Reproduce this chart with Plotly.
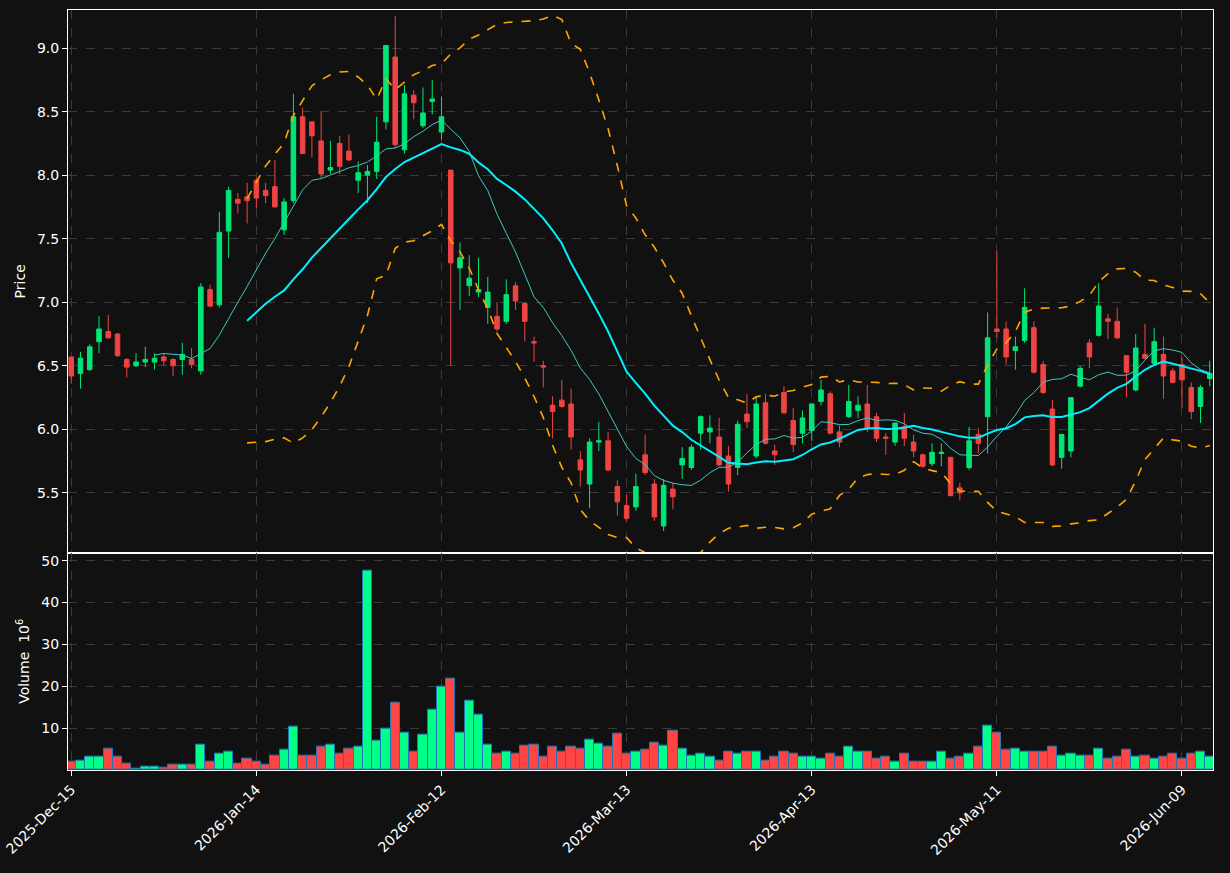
import pandas as pd
import numpy as np
import plotly.graph_objects as go
from plotly.subplots import make_subplots

# trading days (US exchange holidays removed)
holidays = ['2025-12-25', '2026-01-01', '2026-01-19', '2026-02-16', '2026-04-03', '2026-05-25']
dates = [d for d in pd.bdate_range('2025-12-15', '2026-06-12') if d.strftime('%Y-%m-%d') not in holidays]

opens = [6.57, 6.44, 6.47, 6.69, 6.77, 6.75, 6.55, 6.50, 6.53, 6.53, 6.57, 6.55, 6.55, 6.55, 6.46, 7.10, 6.98, 7.56, 7.81, 7.83,
         7.96, 7.88, 7.91, 7.57, 7.80, 8.46, 8.42, 8.27, 8.04, 8.25, 8.19, 7.96, 8.00, 8.03, 8.42, 8.93, 8.20, 8.63, 8.39, 8.58,
         8.34, 8.04, 7.27, 7.13, 7.08, 6.96, 6.89, 6.85, 7.13, 6.99, 6.69, 6.50, 6.19, 6.23, 6.20, 5.76, 5.57, 5.90, 5.91, 5.55,
         5.40, 5.39, 5.80, 5.57, 5.24, 5.53, 5.72, 5.70, 5.97, 5.98, 5.94, 5.79, 5.70, 6.12, 5.79, 6.21, 5.83, 6.29, 6.07, 5.97,
         5.99, 6.22, 6.28, 5.98, 6.10, 6.15, 6.20, 6.10, 5.94, 5.90, 6.02, 5.90, 5.80, 5.73, 5.81, 5.78, 5.54, 5.70, 5.96, 6.10,
         6.79, 6.79, 6.62, 6.70, 6.80, 6.51, 6.16, 5.78, 5.83, 6.34, 6.68, 6.74, 6.87, 6.85, 6.58, 6.31, 6.59, 6.52, 6.59, 6.46,
         6.51, 6.33, 6.18, 6.40]
highs = [6.57, 6.61, 6.67, 6.89, 6.90, 6.76, 6.56, 6.60, 6.65, 6.60, 6.60, 6.56, 6.68, 6.64, 7.15, 7.14, 7.71, 7.91, 7.86, 7.94,
         7.98, 7.94, 8.12, 7.82, 8.64, 8.53, 8.42, 8.50, 8.27, 8.31, 8.32, 8.11, 8.08, 8.46, 9.02, 9.25, 8.71, 8.67, 8.69, 8.75,
         8.62, 8.04, 7.47, 7.37, 7.35, 7.20, 7.00, 7.18, 7.16, 6.99, 6.73, 6.54, 6.26, 6.39, 6.32, 5.83, 5.93, 6.06, 5.98, 5.60,
         5.49, 5.65, 5.96, 5.61, 5.61, 5.58, 5.86, 5.88, 6.11, 6.11, 6.09, 5.87, 6.07, 6.28, 6.26, 6.28, 5.88, 6.34, 6.17, 6.15,
         6.20, 6.39, 6.30, 6.03, 6.35, 6.26, 6.35, 6.13, 5.97, 6.05, 6.13, 5.96, 5.81, 5.89, 5.89, 5.78, 5.58, 6.02, 6.01, 6.92,
         7.40, 6.85, 6.73, 7.11, 6.85, 6.54, 6.23, 5.96, 6.25, 6.50, 6.71, 7.15, 6.91, 6.96, 6.58, 6.75, 6.83, 6.80, 6.73, 6.48,
         6.57, 6.37, 6.35, 6.54]
lows = [6.36, 6.32, 6.46, 6.60, 6.72, 6.57, 6.41, 6.49, 6.49, 6.47, 6.50, 6.42, 6.43, 6.48, 6.43, 6.96, 6.96, 7.35, 7.70, 7.62,
        7.74, 7.78, 7.75, 7.53, 7.78, 8.17, 8.14, 7.98, 8.01, 8.01, 8.11, 7.86, 7.78, 7.97, 8.36, 8.21, 8.17, 8.44, 8.37, 8.48,
        8.28, 6.50, 6.94, 7.05, 7.04, 6.83, 6.77, 6.83, 6.94, 6.69, 6.53, 6.33, 5.93, 6.17, 5.84, 5.55, 5.38, 5.83, 5.67, 5.32,
        5.28, 5.36, 5.64, 5.28, 5.20, 5.37, 5.61, 5.68, 5.84, 5.89, 5.71, 5.51, 5.64, 6.01, 5.77, 5.88, 5.72, 6.12, 5.82, 5.89,
        5.91, 6.19, 5.96, 5.86, 6.09, 6.09, 5.98, 5.90, 5.80, 5.87, 5.87, 5.78, 5.70, 5.71, 5.71, 5.47, 5.44, 5.68, 5.81, 5.81,
        6.72, 6.51, 6.47, 6.68, 6.44, 6.28, 5.71, 5.69, 5.78, 6.33, 6.48, 6.73, 6.71, 6.71, 6.25, 6.30, 6.55, 6.51, 6.24, 6.36,
        6.17, 6.08, 6.05, 6.34]
closes = [6.42, 6.56, 6.65, 6.79, 6.72, 6.58, 6.49, 6.53, 6.55, 6.56, 6.54, 6.50, 6.59, 6.51, 7.12, 6.97, 7.55, 7.88, 7.78, 7.80,
          7.82, 7.84, 7.75, 7.79, 8.46, 8.17, 8.31, 8.01, 8.06, 8.07, 8.12, 8.02, 8.03, 8.26, 9.02, 8.24, 8.64, 8.57, 8.49, 8.60,
          8.46, 7.31, 7.35, 7.19, 7.10, 7.08, 6.79, 7.06, 7.01, 6.85, 6.68, 6.49, 6.14, 6.18, 5.94, 5.68, 5.90, 5.91, 5.68, 5.43,
          5.30, 5.55, 5.66, 5.31, 5.56, 5.47, 5.77, 5.86, 6.10, 6.01, 5.72, 5.57, 6.04, 6.06, 6.20, 5.89, 5.80, 6.13, 5.88, 6.09,
          6.20, 6.31, 5.97, 5.90, 6.22, 6.19, 6.01, 5.93, 5.93, 6.05, 5.93, 5.83, 5.71, 5.82, 5.82, 5.48, 5.50, 5.91, 5.89, 6.72,
          6.77, 6.57, 6.65, 6.96, 6.45, 6.29, 5.72, 5.96, 6.25, 6.48, 6.57, 6.97, 6.85, 6.72, 6.45, 6.64, 6.56, 6.69, 6.42, 6.37,
          6.39, 6.14, 6.33, 6.44]
volumes = [1.9, 2.3, 3.1, 3.3, 5.0, 3.3, 1.5, 0.4, 0.8, 0.8, 0.6, 1.3, 1.3, 1.3, 6.0, 2.0, 4.0, 4.3, 1.5, 2.6,
           2.0, 1.4, 3.5, 4.8, 10.3, 3.5, 3.5, 5.5, 6.0, 3.8, 5.0, 5.5, 47.6, 6.9, 9.8, 16.1, 8.9, 4.3, 8.4, 14.4,
           20.0, 21.9, 8.9, 16.6, 13.2, 6.0, 4.0, 4.5, 3.8, 5.7, 6.0, 3.3, 5.5, 4.3, 5.5, 5.0, 7.2, 6.2, 5.5, 8.6,
           3.8, 4.5, 4.8, 6.5, 5.7, 9.4, 5.2, 3.5, 4.0, 3.3, 2.3, 4.3, 4.0, 4.3, 4.3, 2.3, 3.1, 4.3, 4.0, 3.3,
           3.1, 2.8, 3.8, 3.3, 5.5, 4.5, 4.5, 2.6, 3.3, 1.9, 4.0, 2.0, 2.0, 2.0, 4.5, 2.8, 3.1, 4.0, 5.5, 10.6,
           8.9, 4.8, 5.0, 4.5, 4.5, 4.5, 5.5, 3.5, 3.8, 3.5, 3.5, 5.2, 2.6, 3.1, 4.8, 3.3, 3.5, 2.8, 3.1, 3.8,
           2.8, 3.8, 4.5, 3.3]

UP, DOWN = '#00e676', '#ef4444'
idx = np.arange(len(dates))
close_s = pd.Series(closes)
ma10 = close_s.rolling(10).mean()
ma20 = close_s.rolling(20).mean()
sd20 = close_s.rolling(20).std(ddof=0)
bb_up = ma20 + 2 * sd20
bb_lo = ma20 - 2 * sd20
vol_colors = ['#00ff88' if c >= o else '#ff4444' for o, c in zip(opens, closes)]

fig = make_subplots(rows=2, cols=1, shared_xaxes=True, vertical_spacing=0.0, row_heights=[0.714, 0.286])

fig.add_trace(go.Candlestick(x=idx, open=opens, high=highs, low=lows, close=closes,
                             increasing=dict(line=dict(color=UP, width=1), fillcolor=UP),
                             decreasing=dict(line=dict(color=DOWN, width=1), fillcolor=DOWN),
                             whiskerwidth=0, showlegend=False, hoverinfo='skip'), row=1, col=1)
fig.add_trace(go.Scatter(x=idx, y=ma10, mode='lines', line=dict(color='#40c8c0', width=1), showlegend=False), row=1, col=1)
fig.add_trace(go.Scatter(x=idx, y=ma20, mode='lines', line=dict(color='#00f0ff', width=2), showlegend=False), row=1, col=1)
for band in (bb_up, bb_lo):
    fig.add_trace(go.Scatter(x=idx, y=band, mode='lines', line=dict(color='#ffa500', width=1.6, dash='dash'),
                             showlegend=False), row=1, col=1)

fig.add_trace(go.Bar(x=idx, y=volumes, marker=dict(color=vol_colors, line=dict(color='#1f77b4', width=1)),
                     width=1.0, showlegend=False), row=2, col=1)

tick_pos = list(range(0, len(dates), 20))
tick_txt = [dates[i].strftime('%Y-%b-%d') for i in tick_pos]

axis_common = dict(showline=True, linecolor='white', linewidth=1, mirror=True, ticks='outside', tickcolor='white',
                   gridcolor='#3a3a3a', griddash='dash', gridwidth=1, zeroline=False, automargin=False,
                   tickfont=dict(color='white', size=14))
fig.update_xaxes(range=[-0.35, len(dates) - 0.65], tickvals=tick_pos, ticktext=tick_txt, rangeslider_visible=False,
                 **axis_common)
fig.update_xaxes(tickangle=-45, row=2, col=1)
fig.update_yaxes(range=[5.03, 9.30], tickvals=[5.5, 6.0, 6.5, 7.0, 7.5, 8.0, 8.5, 9.0], tickformat='.1f',
                 title=dict(text='Price', font=dict(color='white', size=14), standoff=8), row=1, col=1, **axis_common)
fig.update_yaxes(range=[0, 51.9], tickvals=[10, 20, 30, 40, 50],
                 title=dict(text='Volume  10<sup>6</sup>', font=dict(color='white', size=14), standoff=8),
                 row=2, col=1, **axis_common)

fig.update_layout(width=1230, height=873, paper_bgcolor='#111111', plot_bgcolor='#111111',
                  margin=dict(l=68, r=17, t=10, b=103), font=dict(family='DejaVu Sans', color='white'),
                  bargap=0)

fig.write_html("out.html", config={'displayModeBar': False},
               post_script="document.body.style.margin='0';document.body.style.background='#111111';")
